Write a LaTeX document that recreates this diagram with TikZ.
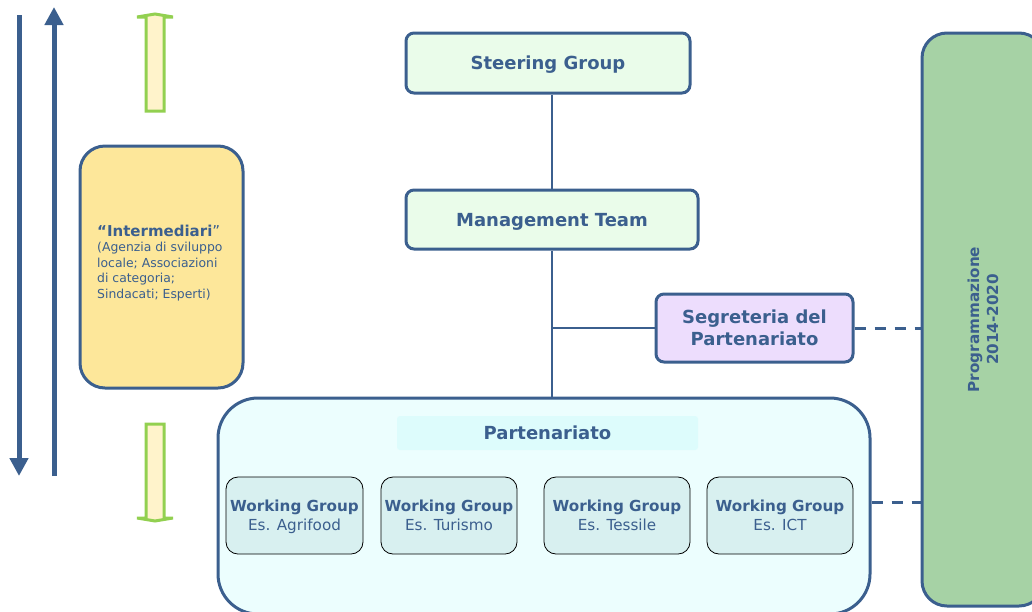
\documentclass[tikz,border=0pt]{standalone}
\usepackage{fontspec}
\setmainfont{DejaVu Sans}
\usetikzlibrary{arrows.meta,positioning}
\definecolor{navy}{HTML}{3B5F8E}
\definecolor{paleGreen}{HTML}{EAFCEA}
\definecolor{lilac}{HTML}{EDDDFD}
\definecolor{paleCyan}{HTML}{ECFEFE}
\definecolor{bandCyan}{HTML}{DDFCFC}
\definecolor{wgFill}{HTML}{D8F0F0}
\definecolor{progGreen}{HTML}{A6D2A5}
\definecolor{softYellow}{HTML}{FDE79A}
\definecolor{cream}{HTML}{FFF3CB}
\definecolor{limeGreen}{HTML}{92D050}

\begin{document}
\begin{tikzpicture}[x=1pt, y=-1pt, >=stealth,
    box/.style={draw=navy, line width=3pt, rounded corners=8pt, text=navy, align=center,
        inner sep=0pt, text depth=0pt, font=\bfseries\fontsize{18}{22}\selectfont},
    wgbox/.style={draw=black, line width=0.8pt, fill=wgFill, rounded corners=12pt, text=navy,
        align=center, inner sep=0pt, text depth=0pt, minimum height=77pt, font=\fontsize{15.2}{19}\selectfont},
    conn/.style={draw=navy, line width=2.5pt},
    dashconn/.style={conn, line width=3pt, dash pattern=on 11pt off 9pt},
    bigarrow/.style={navy, line width=5pt, -{Triangle[width=18pt,length=18pt]}},
    hollow/.style={draw=limeGreen, line width=3pt, fill=cream, line join=miter}]
    \useasboundingbox (0,0) rectangle (1032,611);

    % Main hierarchy
    \node[box, fill=paleGreen, minimum width=284pt, minimum height=60pt] (steering) at (548,63) {Steering Group};
    \node[box, fill=paleGreen, minimum width=292pt, minimum height=59pt] (mgmt) at (552,219.5) {Management Team};
    \node[box, fill=lilac, minimum width=197pt, minimum height=68pt] (segr) at (754.5,328) {Segreteria del\\Partenariato};
    \node[box, fill=paleCyan, rounded corners=40pt, minimum width=652pt, minimum height=216pt] (partner) at (544,506) {};
    \node[fill=bandCyan, rounded corners=3pt, minimum width=301pt, minimum height=34pt, inner sep=0pt, text depth=0pt,
        text=navy, font=\bfseries\fontsize{18}{22}\selectfont] (ptitle) at (547.5,433) {Partenariato};

    % Working groups
    \node[wgbox, minimum width=137pt] (wgA) at (294.5,515.5) {\textbf{Working Group}\\Es. Agrifood};
    \node[wgbox, minimum width=136pt] (wgB) at (449,515.5) {\textbf{Working Group}\\Es. Turismo};
    \node[wgbox, minimum width=146pt] (wgC) at (617,515.5) {\textbf{Working Group}\\Es. Tessile};
    \node[wgbox, minimum width=146pt] (wgD) at (780,515.5) {\textbf{Working Group}\\Es. ICT};

    % Side boxes
    \node[box, fill=progGreen, rounded corners=25pt, minimum width=122pt, minimum height=573pt] (prog) at (983,319.5) {};
    \node[rotate=90, text=navy, align=center, font=\bfseries\fontsize{15.2}{19}\selectfont] (progtext) at (prog.center) {Programmazione\\2014-2020};
    \node[box, fill=softYellow, rounded corners=25pt, minimum width=163pt, minimum height=242pt] (interm) at (161.5,267) {};
    \node[anchor=west, align=left, text=navy, inner sep=0pt, font=\fontsize{12.4}{15.5}\selectfont] (intermtext) at (97,263)
        {\textbf{\fontsize{15}{15.5}\selectfont “Intermediari}\fontsize{15}{15.5}\selectfont ”\\(Agenzia di sviluppo\\locale; Associazioni\\di categoria;\\Sindacati; Esperti)};

    % Connectors
    \draw[conn] (mgmt.south |- steering.south) -- (mgmt.north);
    \draw[conn] (mgmt.south) -- (mgmt.south |- partner.north);
    \draw[conn] (segr.west -| mgmt.south) -- (segr.west);
    \draw[dashconn] (segr.east) -- (segr.east -| prog.west);
    \coordinate (wgright) at (partner.east |- 0,502);
    \draw[dashconn] (wgright) -- (wgright -| prog.west);

    % Level arrows
    \coordinate (downtop) at (19,15);
    \coordinate (downtip) at (19,476);
    \coordinate (upfoot) at (54,476);
    \coordinate (uptip) at (54,7);
    \draw[bigarrow] (downtop) -- (downtip);
    \draw[bigarrow] (upfoot) -- (uptip);

    % Hollow arrows
    \draw[hollow] (146,111) -- (146,17) -- (137,17) -- (155,14) -- (173,17) -- (164,17) -- (164,111) -- cycle;
    \draw[hollow] (146,424) -- (146,518) -- (137,518) -- (155,521) -- (173,518) -- (164,518) -- (164,424) -- cycle;
\end{tikzpicture}
\end{document}
